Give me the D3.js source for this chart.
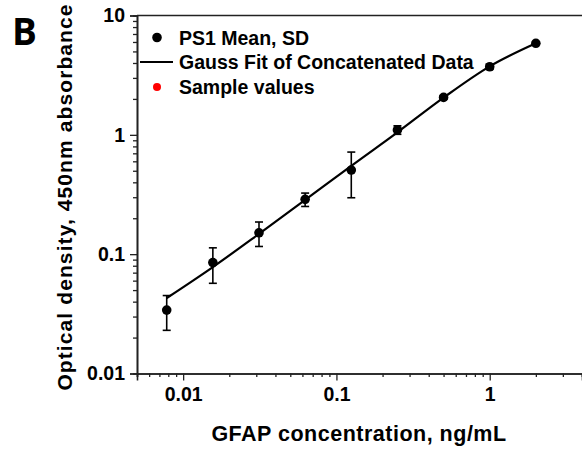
<!DOCTYPE html>
<html>
<head>
<meta charset="utf-8">
<script src="https://cdn.jsdelivr.net/npm/d3@7"></script>
<style>
    body { margin: 0; background: #fff; }
    text { font-family: "Liberation Sans", Arial, sans-serif; font-weight: bold; fill: #000; }
</style>
</head>
<body>
<div id="chart"></div>
<script>
// GFAP standard curve, 2-fold dilutions
const concentrations = [0.0078125, 0.015625, 0.03125, 0.0625, 0.125, 0.25, 0.5, 1, 2]
const meanOD = [0.034, 0.085, 0.151, 0.288, 0.507, 1.10, 2.06, 3.72, 5.85]
const sdOD = [0.011, 0.028, 0.035, 0.037, 0.21, 0.09, 0.07, 0.18, 0.1]
const fitOD = [0.0429, 0.078, 0.148, 0.285, 0.55, 1.05, 2.05, 3.75, 5.85]
const sampleValues = []   // no sample points drawn, legend only

const yTickLabels = [0.01, 0.1, 1, 10]
const xTickLabels = [0.01, 0.1, 1]
const legendLabels = ['PS1 Mean, SD', 'Gauss Fit of Concatenated Data', 'Sample values']

const width = 582
const height = 450
const margin = { left: 137, right: 0, top: 15.5, bottom: 76.5 }

const x = d3.scaleLog()
    .domain([0.005, 4])
    .range([margin.left, width - margin.right])

const y = d3.scaleLog()
    .domain([0.01, 10])
    .range([height - margin.bottom, margin.top])

const svg = d3.select('#chart').append('svg')
    .attr('width', width)
    .attr('height', height)

const points = concentrations.map((c, i) => ({
    c: c, mean: meanOD[i], sd: sdOD[i], fit: fitOD[i]
}))

// axes: major ticks labelled, minor ticks shorter
const fmt = d => (d >= 1 ? d3.format('d')(d) : String(d))
const xMinor = x.ticks().filter(d => !xTickLabels.includes(d))
const yMinor = y.ticks().filter(d => !yTickLabels.includes(d))

const xAxis = svg.append('g')
    .attr('transform', 'translate(0,' + y.range()[0] + ')')
xAxis.append('g')
    .call(d3.axisBottom(x).tickValues(xMinor).tickSize(3.5).tickFormat(''))
xAxis.append('g')
    .call(d3.axisBottom(x).tickValues(xTickLabels).tickSize(7).tickPadding(7).tickFormat(fmt))

const yAxis = svg.append('g')
    .attr('transform', 'translate(' + x.range()[0] + ',0)')
yAxis.append('g')
    .call(d3.axisLeft(y).tickValues(yMinor).tickSize(4).tickFormat(''))
yAxis.append('g')
    .call(d3.axisLeft(y).tickValues(yTickLabels).tickSize(7).tickPadding(5).tickFormat(fmt))

svg.selectAll('.domain').attr('stroke', '#222').attr('stroke-width', 1.6)
svg.selectAll('.tick line').attr('stroke', '#222').attr('stroke-width', 1.3)
svg.selectAll('.tick text')
    .style('font-size', '19.5px')
    .attr('fill', '#000')

// top frame line
svg.append('line')
    .attr('x1', x.range()[0]).attr('x2', width)
    .attr('y1', y.range()[1]).attr('y2', y.range()[1])
    .attr('stroke', '#222').attr('stroke-width', 1.6)

// fit curve
const line = d3.line()
    .x(d => x(d.c))
    .y(d => y(d.fit))
    .curve(d3.curveMonotoneX)

svg.append('path')
    .datum(points)
    .attr('d', line)
    .attr('fill', 'none')
    .attr('stroke', '#000')
    .attr('stroke-width', 2.2)

// error bars
const capW = 4
const bars = svg.append('g').selectAll('g')
    .data(points).enter().append('g')
    .attr('stroke', '#000').attr('stroke-width', 1.6)
bars.append('line')
    .attr('x1', d => x(d.c)).attr('x2', d => x(d.c))
    .attr('y1', d => y(d.mean + d.sd)).attr('y2', d => y(d.mean - d.sd))
bars.append('line')
    .attr('x1', d => x(d.c) - capW).attr('x2', d => x(d.c) + capW)
    .attr('y1', d => y(d.mean + d.sd)).attr('y2', d => y(d.mean + d.sd))
bars.append('line')
    .attr('x1', d => x(d.c) - capW).attr('x2', d => x(d.c) + capW)
    .attr('y1', d => y(d.mean - d.sd)).attr('y2', d => y(d.mean - d.sd))

svg.append('g').selectAll('circle')
    .data(points).enter().append('circle')
    .attr('cx', d => x(d.c))
    .attr('cy', d => y(d.mean))
    .attr('r', 4.8)
    .attr('fill', '#000')

svg.append('g').selectAll('circle')
    .data(sampleValues).enter().append('circle')
    .attr('cx', d => x(d[0]))
    .attr('cy', d => y(d[1]))
    .attr('r', 4)
    .attr('fill', 'red')

// legend
const legend = svg.append('g').attr('transform', 'translate(157,0)')
const legendY = [37.5, 62, 87]
legend.append('circle').attr('cx', 0).attr('cy', legendY[0]).attr('r', 4.8).attr('fill', '#000')
legend.append('line')
    .attr('x1', -17).attr('x2', 16)
    .attr('y1', legendY[1]).attr('y2', legendY[1])
    .attr('stroke', '#000').attr('stroke-width', 2.2)
legend.append('circle').attr('cx', 0).attr('cy', legendY[2]).attr('r', 4).attr('fill', 'red')
legend.selectAll('text')
    .data(legendLabels).enter().append('text')
    .attr('x', 22)
    .attr('y', (d, i) => legendY[i])
    .attr('dy', '0.36em')
    .style('font-size', '19.5px')
    .text(d => d)

// axis titles
svg.append('text')
    .attr('x', 359)
    .attr('y', 441)
    .attr('text-anchor', 'middle')
    .style('font-size', '21.5px')
    .style('letter-spacing', '0.5px')
    .text('GFAP concentration, ng/mL')

svg.append('text')
    .attr('transform', 'translate(72,197) rotate(-90)')
    .attr('text-anchor', 'middle')
    .style('font-size', '21px')
    .style('letter-spacing', '1.1px')
    .text('Optical density, 450nm absorbance')

// panel letter
svg.append('text')
    .attr('x', 12)
    .attr('y', 45)
    .style('font-size', '37px')
    .style('font-family', '"Open Sans", sans-serif')
    .text('B')
</script>
</body>
</html>
